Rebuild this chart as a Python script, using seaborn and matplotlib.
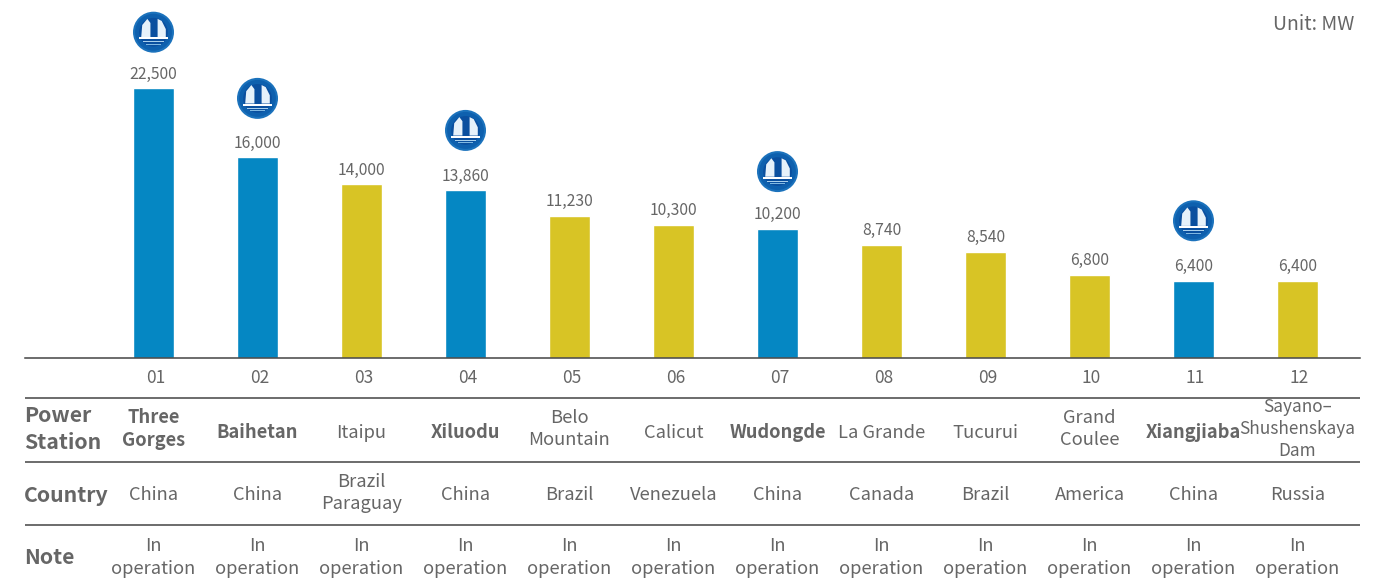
import matplotlib
matplotlib.use("Agg")
import matplotlib.pyplot as plt
import pandas as pd
import seaborn as sns
from matplotlib.offsetbox import AnnotationBbox, DrawingArea
from matplotlib.patches import Circle, Polygon, Rectangle
from matplotlib.transforms import ScaledTranslation

codes = ["01", "02", "03", "04", "05", "06", "07", "08", "09", "10", "11", "12"]
capacity = [22500, 16000, 14000, 13860, 11230, 10300, 10200, 8740, 8540, 6800, 6400, 6400]
# the bars in the picture are not drawn proportionally to their printed labels; heights as read off it
bar_height = [22500, 16720, 14460, 13960, 11860, 11110, 10770, 9430, 8840, 6920, 6410, 6410]
owned = [True, True, False, True, False, False, True, False, False, False, True, False]
stations = ["Three\nGorges", "Baihetan", "Itaipu", "Xiluodu", "Belo\nMountain", "Calicut", "Wudongde",
            "La Grande", "Tucurui", "Grand\nCoulee", "Xiangjiaba", "Sayano–\nShushenskaya\nDam"]
countries = ["China", "China", "Brazil\nParaguay", "China", "Brazil", "Venezuela", "China",
             "Canada", "Brazil", "America", "China", "Russia"]
notes = ["In\noperation"] * 12
row_names = ["Power\nStation", "Country", "Note"]
unit = "Unit: MW"

W, H = 1396, 583
BLUE, GOLD, TXT, RULE = "#0587c3", "#d8c425", "#666666", "#444444"
FONT = "Noto Sans CJK SC"
LOGO_RISE = {0: 56, 1: 59, 3: 60, 6: 57, 10: 60}

sns.set_theme(style="white")
plt.rcParams["font.family"] = [FONT, "DejaVu Sans"]
fig = plt.figure(figsize=(W / 100, H / 100), dpi=100, facecolor="white")

L, R, BASE = 25, 1360, 357.5
ax = fig.add_axes([L / W, 1 - BASE / H, (R - L) / W, BASE / H])
df = pd.DataFrame({"code": codes, "height": bar_height,
                   "kind": ["own" if o else "other" for o in owned]})
sns.barplot(data=df, x="code", y="height", hue="kind", dodge=False, width=40.5 / 104,
            palette={"own": BLUE, "other": GOLD}, legend=False, saturation=1, ax=ax)
x0, x1 = (L - 153.5) / 104, (R - 153.5) / 104
ax.set_xlim(x0, x1)
ax.set_ylim(0, 22500 * BASE / 269.3)
ax.set_xlabel("")
ax.set_ylabel("")
ax.set_yticks([])
ax.tick_params(axis="x", length=0, pad=8, labelsize=12.5, labelcolor=TXT)
for lab in ax.get_xticklabels():
    lab.set_transform(lab.get_transform() + ScaledTranslation(1.5 / 72, 0, fig.dpi_scale_trans))
for s in ("top", "left", "right"):
    ax.spines[s].set_visible(False)
ax.spines["bottom"].set_color(RULE)
ax.spines["bottom"].set_linewidth(1.1)


def logo():
    r = 20.5 * 0.72
    d = DrawingArea(2 * r, 2 * r, 0, 0)
    c = (r, r)
    for frac, col in [(1.0, "#1b72bc"), (0.9, "#0e60ae"), (0.7, "#0a4f9f")]:
        d.add_artist(Circle(c, r * frac, fc=col, ec="none"))
    k = r / 20
    for pts in ([(-12, -5), (-11, 7), (-6, 13), (-3, 9), (-3, -5)],
                [(4, -5), (4, 13), (8, 11), (12, 3), (12, -5)]):
        d.add_artist(Polygon([(r + a * k, r + b * k) for a, b in pts], fc="#e6f1fa", ec="none"))
    d.add_artist(Rectangle((r - 14 * k, r - 7 * k), 28 * k, 2 * k, fc="white", ec="none"))
    d.add_artist(Rectangle((r - 10 * k, r - 10 * k), 20 * k, 1.1 * k, fc="#a8d0ec", ec="none"))
    d.add_artist(Rectangle((r - 7 * k, r - 12.5 * k), 14 * k, 1 * k, fc="#7fb8e2", ec="none"))
    return d


for i, (v, h, o) in enumerate(zip(capacity, bar_height, owned)):
    ax.annotate(f"{v:,}", (i, h), xytext=(0, 14 * 0.72), textcoords="offset points",
                ha="center", va="center", fontsize=11.3, color=TXT)
    if o:
        ax.add_artist(AnnotationBbox(logo(), (i, h), xybox=(0, LOGO_RISE[i] * 0.72), boxcoords="offset points",
                                     frameon=False, pad=0, annotation_clip=False))

fig.text(1354 / W, 1 - 24 / H, unit, ha="right", va="center", fontsize=14, color=TXT)

tab = fig.add_axes([L / W, 0, (R - L) / W, 1 - BASE / H])
tab.set_xlim(x0, x1)
tab.set_ylim(H, BASE)
tab.axis("off")
tab.hlines([398, 461.5, 524.5], x0, x1, color=RULE, lw=1.1)
rows = [(429, 433, stations), (493, 495.5, countries), (557.5, 557.5, notes)]
for name, (y2, y1, vals) in zip(row_names, rows):
    tab.text((24 - L) / 104 + x0, y1 if "\n" not in name else y2, name, ha="left", va="center",
             fontsize=15.3, fontweight="bold", color=TXT, linespacing=1.3)
    for i, t in enumerate(vals):
        bold = vals is stations and owned[i]
        three = t.count("\n") == 2
        tab.text(i, y1 if "\n" not in t else y2, t, ha="center", va="center",
                 fontsize=12.4 if three else 13.2, color=TXT,
                 fontweight="bold" if bold else "normal", linespacing=1.27 if three else 1.3)

fig.savefig("out.png", dpi=100)
